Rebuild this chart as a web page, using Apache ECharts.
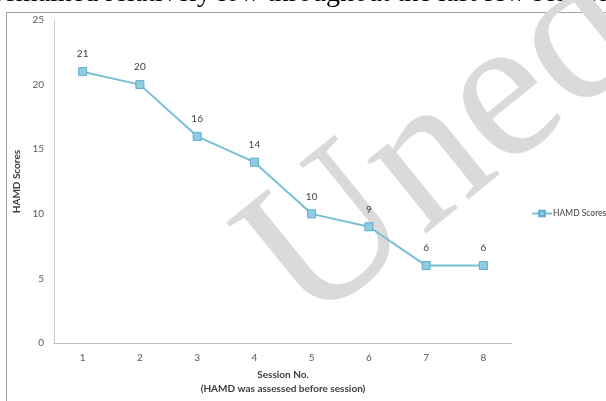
<!DOCTYPE html>
<html>
<head>
<meta charset="utf-8">
<script src="https://cdn.jsdelivr.net/npm/echarts@6/dist/echarts.min.js"></script>
<style>html,body{margin:0;padding:0;background:#fff;}#c{width:606px;height:401px;}</style>
</head>
<body>
<div id="c"></div>
<script>
var sessions = ['1','2','3','4','5','6','7','8'];
var hamdScores = [21, 20, 16, 14, 10, 9, 6, 6];
var seriesName = 'HAMD Scores';
var yTicks = {min: 0, max: 25, interval: 5};
var xTitle = 'Session No.\n(HAMD was assessed before session)';
var yTitle = 'HAMD Scores';
var topText = 'remained relatively low throughout the last few sessions';
var watermark = 'Uned';

var chart = echarts.init(document.getElementById('c'));
var font = 'Lato, "Open Sans", sans-serif';
chart.setOption({
  backgroundColor: '#fff',
  animation: false,
  graphic: [
    {type: 'text', z: 0, left: -6, top: -20, style: {text: topText, font: '28px "Liberation Serif", "DejaVu Serif", serif', fill: '#000'}},
    {type: 'rect', z: 0, shape: {x: 6.5, y: 12.5, width: 700, height: 500}, style: {fill: 'none', stroke: '#444', lineWidth: 1, lineDash: [1, 1]}},
    {type: 'text', z: 1, x: 446, y: 148, rotation: 39 * Math.PI / 180,
      style: {text: watermark, font: '205px "Liberation Serif", "DejaVu Serif", serif', fill: '#dadada', align: 'center', verticalAlign: 'middle'}}
  ],
  grid: {left: 54, right: 94, top: 20, bottom: 53},
  legend: {
    data: [seriesName], left: 526, top: 204, itemWidth: 20, itemHeight: 7, itemGap: 4,
    textStyle: {fontFamily: font, fontSize: 8.5, color: '#404040', padding: [0,0,0,-4]}
  },
  xAxis: {
    type: 'category', data: sessions, boundaryGap: true,
    axisLine: {lineStyle: {color: '#bfbfbf', width: 1}},
    axisTick: {show: false},
    axisLabel: {fontFamily: font, fontSize: 10, color: '#595959', margin: 10},
    name: xTitle, nameLocation: 'middle', nameGap: 21,
    nameTextStyle: {fontFamily: font, fontSize: 10, fontWeight: 'bold', color: '#404040', lineHeight: 14}
  },
  yAxis: {
    type: 'value', min: yTicks.min, max: yTicks.max, interval: yTicks.interval,
    axisLine: {show: true, lineStyle: {color: '#bfbfbf', width: 1, type: [1, 1]}},
    axisTick: {show: false},
    splitLine: {show: false},
    axisLabel: {fontFamily: font, fontSize: 10, color: '#595959', margin: 10},
    name: yTitle, nameLocation: 'middle', nameGap: 28, nameRotate: 90,
    nameTextStyle: {fontFamily: font, fontSize: 10, fontWeight: 'bold', color: '#404040'}
  },
  series: [{
    name: seriesName, type: 'line', data: hamdScores, z: 3,
    symbol: 'rect', symbolSize: 8,
    lineStyle: {color: '#78bfd6', width: 2},
    itemStyle: {color: '#8fcce0', borderColor: '#5aafcc', borderWidth: 1},
    label: {show: true, position: 'top', distance: 8, fontFamily: font, fontSize: 10, color: '#404040'}
  }]
});
</script>
</body>
</html>
